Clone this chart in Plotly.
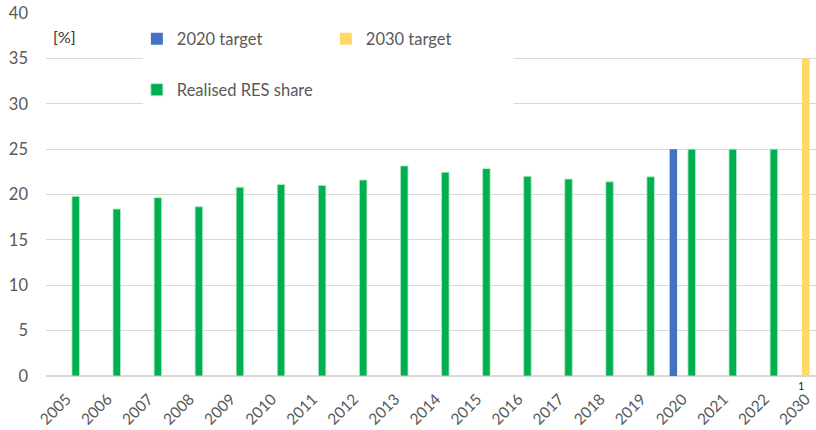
import plotly.graph_objects as go

categories = ["2005", "2006", "2007", "2008", "2009", "2010", "2011", "2012", "2013",
              "2014", "2015", "2016", "2017", "2018", "2019", "2020", "2021", "2022", "2030"]
realised = [19.8, 18.4, 19.65, 18.65, 20.8, 21.1, 21.0, 21.6, 23.15, 22.45, 22.85,
            22.0, 21.7, 21.4, 21.95, 25, 25, 25, None]
target_2020 = [None] * 15 + [25, None, None, None]
target_2030 = [None] * 18 + [35]
y_ticks = [0, 5, 10, 15, 20, 25, 30, 35, 40]

FONT = "Lato"
GREY = "#595959"

fig = go.Figure()
fig.add_trace(go.Bar(x=categories, y=target_2020, name="2020 target",
                     marker=dict(color="#4472C4", line=dict(width=0)), legend="legend"))
fig.add_trace(go.Bar(x=categories, y=target_2030, name="2030 target",
                     marker=dict(color="#FFD966", line=dict(width=0)), legend="legend"))
fig.add_trace(go.Bar(x=categories, y=realised, name="Realised RES share",
                     marker=dict(color="#00B050", line=dict(width=0.8, color="#B7E8C8")),
                     legend="legend2"))

fig.update_layout(
    width=816, height=430,
    margin=dict(l=46, r=0, t=13, b=54, autoexpand=False),
    paper_bgcolor="white", plot_bgcolor="white",
    barmode="group", bargap=0.33, bargroupgap=0.18,
    font=dict(family=FONT, size=15, color=GREY),
    legend=dict(orientation="h", x=0.118, y=0.928, xanchor="left", yanchor="middle",
                entrywidth=144, bgcolor="rgba(0,0,0,0)",
                font=dict(family=FONT, size=16.5, color=GREY)),
    legend2=dict(orientation="h", x=0.118, y=0.788, xanchor="left", yanchor="middle",
                 bgcolor="rgba(0,0,0,0)",
                 font=dict(family=FONT, size=16.5, color=GREY)),
    xaxis=dict(type="category", range=[-0.5, 18.25], tickangle=-45, automargin=False,
               showgrid=False, showline=False, ticks="outside", ticklen=7,
               tickcolor="rgba(0,0,0,0)",
               tickfont=dict(family=FONT, size=15.5, color=GREY)),
    yaxis=dict(range=[0, 40], tickvals=y_ticks, showgrid=True, gridcolor="#D9D9D9",
               gridwidth=1, zeroline=True, zerolinecolor="#D9D9D9", zerolinewidth=2,
               showline=False, ticks="", ticklabelstandoff=17, automargin=False,
               tickfont=dict(family=FONT, size=16.5, color=GREY)),
    shapes=[dict(type="rect", xref="paper", yref="paper", x0=0.126, x1=0.607,
                 y0=0.73, y1=1.015, fillcolor="white", line=dict(width=0), layer="above")],
    annotations=[
        dict(text="[%]", xref="paper", yref="paper", x=0.007, y=0.935, xanchor="left",
             yanchor="middle", showarrow=False, font=dict(family=FONT, size=16, color="#333333")),
        dict(text="1", xref="x", yref="paper", x=categories.index("2030"), y=-0.027,
             xanchor="center", yanchor="middle", showarrow=False, xshift=-5,
             font=dict(family=FONT, size=11, color="#262626")),
    ],
)

fig.write_html("out.html")
